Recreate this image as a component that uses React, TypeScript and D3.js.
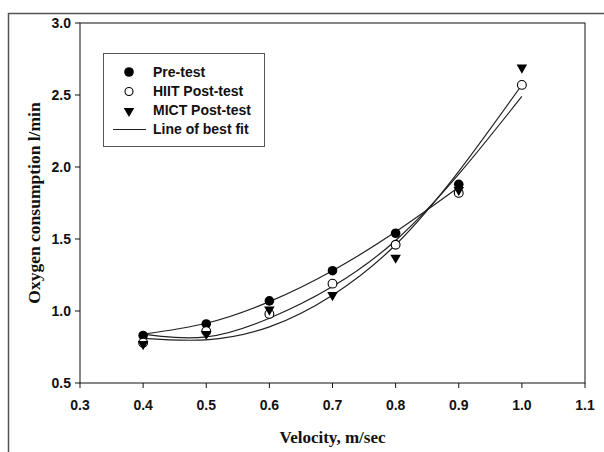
import React from 'react';
import * as d3 from 'd3';

const velocity = [0.4, 0.5, 0.6, 0.7, 0.8, 0.9, 1.0];
const preTest = [0.83, 0.91, 1.07, 1.28, 1.54, 1.88];
const hiitPost = [0.78, 0.86, 0.98, 1.19, 1.46, 1.82, 2.57];
const mictPost = [0.77, 0.84, 1.01, 1.11, 1.37, 1.84, 2.69];

// fitted curves at each velocity
const preFit = [0.84, 0.915, 1.065, 1.28, 1.55, 1.86];
const fitA = [0.84, 0.82, 0.95, 1.17, 1.49, 1.95, 2.49];
const fitB = [0.81, 0.8, 0.89, 1.11, 1.46, 1.97, 2.57];

const xTicks = [0.3, 0.4, 0.5, 0.6, 0.7, 0.8, 0.9, 1.0, 1.1];
const yTicks = [0.5, 1.0, 1.5, 2.0, 2.5, 3.0];
const legendLabels = ['Pre-test', 'HIIT Post-test', 'MICT Post-test', 'Line of best fit'];

const W = 604;
const H = 452;
const left = 80, right = 585, top = 23, bottom = 383;

const sans = '"Liberation Sans", Arial, sans-serif';
const serif = '"Liberation Serif", "Times New Roman", serif';

export default function App() {
  const x = d3.scaleLinear().domain([0.3, 1.1]).range([left, right]);
  const y = d3.scaleLinear().domain([0.5, 3.0]).range([bottom, top]);

  const line = d3.line<number>()
    .x((_, i) => x(velocity[i]))
    .y(d => y(d))
    .curve(d3.curveNatural);

  const tri = d3.symbol().type(d3.symbolTriangle).size(48)();

  const fits = [preFit, fitA, fitB];

  return (
    <svg width={W} height={H} style={{ position: 'absolute', left: 0, top: 0, background: '#fff' }}>
      {/* outer frame */}
      <path d={`M8.5,${H} V13.5 H${W}`} fill="none" stroke="#555" strokeWidth={1.5} />

      {/* plot box */}
      <rect x={left} y={top} width={right - left} height={bottom - top} fill="none" stroke="#111" strokeWidth={1} />

      {/* x ticks */}
      {xTicks.map(t => (
        <g key={'x' + t}>
          <line x1={x(t)} x2={x(t)} y1={bottom} y2={bottom + 5} stroke="#111" />
          <text x={x(t)} y={bottom + 27} textAnchor="middle" fontFamily={sans} fontWeight="bold" fontSize={14} fill="#111">
            {t.toFixed(1)}
          </text>
        </g>
      ))}

      {/* y ticks */}
      {yTicks.map(t => (
        <g key={'y' + t}>
          <line x1={left - 5} x2={left} y1={y(t)} y2={y(t)} stroke="#111" />
          <text x={left - 9} y={y(t) + 5} textAnchor="end" fontFamily={sans} fontWeight="bold" fontSize={14} fill="#111">
            {t.toFixed(1)}
          </text>
        </g>
      ))}

      <text x={(left + right) / 2} y={443} textAnchor="middle" fontFamily={serif} fontWeight="bold" fontSize={17} fill="#111">
        Velocity, m/sec
      </text>
      <text transform={`translate(40,${(top + bottom) / 2}) rotate(-90)`} textAnchor="middle" fontFamily={serif} fontWeight="bold" fontSize={17.5} fill="#111">
        Oxygen consumption l/min
      </text>

      {/* lines of best fit */}
      {fits.map((f, i) => (
        <path key={'f' + i} d={line(f) || ''} fill="none" stroke="#222" strokeWidth={1.2} />
      ))}

      {/* points */}
      {preTest.map((v, i) => (
        <circle key={'p' + i} cx={x(velocity[i])} cy={y(v)} r={4.8} fill="#000" />
      ))}
      {hiitPost.map((v, i) => (
        <circle key={'h' + i} cx={x(velocity[i])} cy={y(v)} r={4.4} fill="#fff" stroke="#000" strokeWidth={1.1} />
      ))}
      {mictPost.map((v, i) => (
        <path key={'m' + i} d={tri || ''} transform={`translate(${x(velocity[i])},${y(v)}) rotate(180)`} fill="#000" />
      ))}

      {/* legend */}
      <g>
        <rect x={103.5} y={53.5} width={161} height={93} fill="#fff" stroke="#555" strokeWidth={1} />
        <circle cx={129} cy={72} r={4.8} fill="#000" />
        <circle cx={129} cy={91.5} r={4} fill="#fff" stroke="#000" strokeWidth={1.1} />
        <path d={tri || ''} transform={`translate(129,111) rotate(180)`} fill="#000" />
        <line x1={113} x2={146} y1={129.5} y2={129.5} stroke="#222" strokeWidth={1.2} />
        {legendLabels.map((l, i) => (
          <text key={l} x={153} y={77 + i * 19} fontFamily={sans} fontWeight="bold" fontSize={14} fill="#111">
            {l}
          </text>
        ))}
      </g>
    </svg>
  );
}
